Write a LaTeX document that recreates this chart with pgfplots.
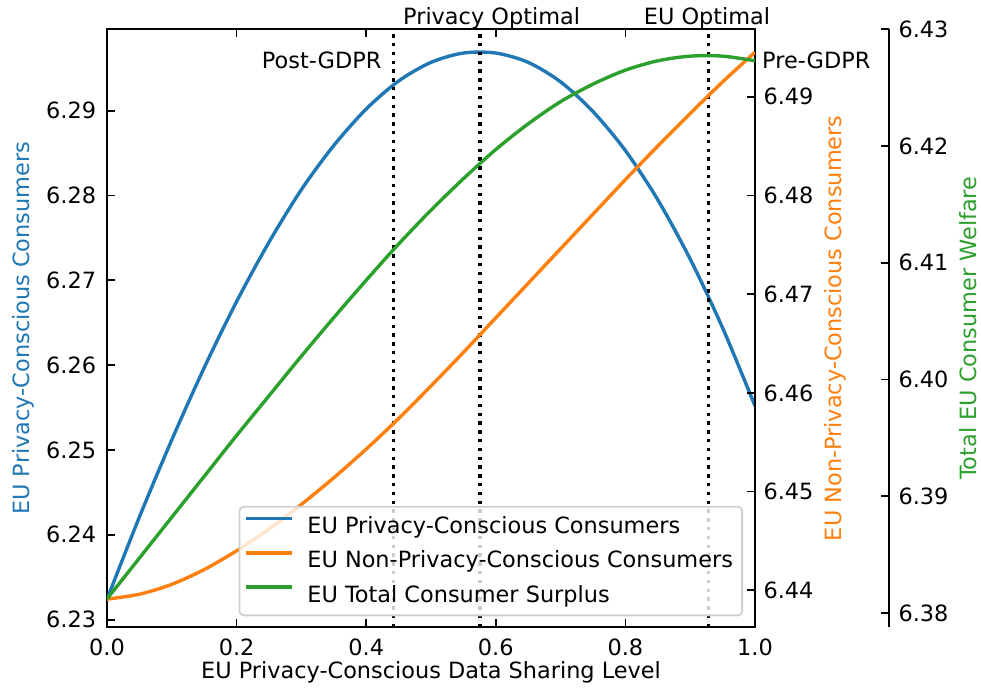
\documentclass[border=0pt]{standalone}
\usepackage{fontspec}
\setmainfont{DejaVu Sans}
\usepackage{pgfplots}
\pgfplotsset{compat=1.18}
\usepackage{pgfplotstable}

\definecolor{tabblue}{HTML}{1F77B4}
\definecolor{taborange}{HTML}{FF7F0E}
\definecolor{tabgreen}{HTML}{2CA02C}

% Consumer welfare against the EU privacy-conscious data sharing level
\pgfplotstableread{
s     pc      npc     total
0.00  6.2324  6.4391  6.3812
0.05  6.2421  6.4396  6.3847
0.10  6.2512  6.4406  6.3882
0.15  6.2597  6.4421  6.3917
0.20  6.2675  6.4440  6.3952
0.25  6.2745  6.4462  6.3986
0.30  6.2807  6.4487  6.4020
0.35  6.2859  6.4514  6.4053
0.40  6.2902  6.4543  6.4085
0.45  6.2935  6.4574  6.4116
0.50  6.2957  6.4607  6.4145
0.55  6.2968  6.4641  6.4172
0.60  6.2968  6.4676  6.4197
0.65  6.2957  6.4711  6.4219
0.70  6.2934  6.4746  6.4238
0.75  6.2899  6.4781  6.4253
0.80  6.2853  6.4816  6.4265
0.85  6.2795  6.4850  6.4273
0.90  6.2725  6.4883  6.4277
0.95  6.2644  6.4915  6.4277
1.00  6.2552  6.4945  6.4273
}\welfare

\newcommand{\chartfont}{\fontsize{11.2}{13.5}\selectfont}

\pgfplotsset{
  base/.style={
    at={(0,0)}, anchor=south west, scale only axis,
    width=324pt, height=299pt,
    xmin=0, xmax=1, enlargelimits=false,
    line width=0.9pt,
    /pgf/number format/assume math mode=true,
    tick align=inside, major tick length=3.9pt,
    every tick/.style={black, line width=0.9pt},
    tick label style={font=\chartfont, inner sep=0pt},
    scaled ticks=false,
    yticklabel style={/pgf/number format/fixed, /pgf/number format/fixed zerofill, /pgf/number format/precision=2},
  },
  curve/.style={line width=1.7pt, smooth},
  marker/.style={black, line width=1.7pt, dash pattern=on 1.7pt off 2.7pt},
}

\begin{document}
\chartfont
\begin{tikzpicture}
% privacy-conscious consumers, left scale
\begin{axis}[base,
  ymin=6.2291, ymax=6.2996,
  ytick={6.23,6.24,6.25,6.26,6.27,6.28,6.29},
  xtick={0,0.2,0.4,0.6,0.8,1},
  xtick pos=both, xticklabel pos=lower, ytick pos=left,
  xticklabel style={/pgf/number format/fixed, /pgf/number format/fixed zerofill, /pgf/number format/precision=1},
  xticklabel style={anchor=north, yshift=-5.3pt},
  yticklabel style={anchor=east, xshift=-5pt},
]
\addplot[curve, tabblue] table[x=s, y=pc] {\welfare};
\addplot[marker] coordinates {(0.4425,6.2291) (0.4425,6.2996)};
\addplot[marker] coordinates {(0.5756,6.2291) (0.5756,6.2996)};
\addplot[marker] coordinates {(0.928,6.2291) (0.928,6.2996)};
\end{axis}

% non-privacy-conscious consumers, first right scale
\begin{axis}[base,
  ymin=6.43625, ymax=6.49683,
  hide x axis, axis y line*=right,
  ytick={6.44,6.45,6.46,6.47,6.48,6.49},
  yticklabel style={anchor=west, xshift=3.85pt},
]
\addplot[curve, taborange] table[x=s, y=npc] {\welfare};
\end{axis}

% total welfare, offset right scale
\begin{axis}[base, at={(67pt,0)},
  ymin=6.37877, ymax=6.43,
  hide x axis, axis y line*=right,
  ytick={6.38,6.39,6.40,6.41,6.42,6.43},
  yticklabel style={anchor=west, xshift=4.3pt},
]
\end{axis}

% total welfare curve and legend
\begin{axis}[base,
  ymin=6.37877, ymax=6.43, hide axis,
  legend cell align=left,
  legend image code/.code={\draw[#1] (0pt,0.36em) -- (23pt,0.36em);},
  legend style={at={(axis description cs:1,0)}, anchor=south east,
    xshift=-6pt, yshift=5.5pt,
    font=\chartfont,
    draw=black!18, line width=0.9pt, rounded corners=2pt,
    fill=white, fill opacity=0.8, draw opacity=1, text opacity=1,
    inner xsep=2.6pt, inner ysep=2pt,
    row sep=0.95pt, column sep=4.6pt,
    nodes={inner xsep=2pt, inner ysep=1pt, text height=10.5pt, text depth=3.65pt}},
]
\addlegendimage{tabblue, line width=1.7pt}
\addlegendentry{EU Privacy-Conscious Consumers}
\addlegendimage{taborange, line width=1.7pt}
\addlegendentry{EU Non-Privacy-Conscious Consumers}
\addplot[curve, tabgreen] table[x=s, y=total] {\welfare};
\addlegendentry{EU Total Consumer Surplus}
\end{axis}

% axis titles
\node[rotate=90, anchor=base, inner sep=0pt, text=tabblue] at (-38.5pt,149.5pt) {EU Privacy-Conscious Consumers};
\node[rotate=90, anchor=base, inner sep=0pt, text=taborange] at (367.3pt,149.5pt) {EU Non-Privacy-Conscious Consumers};
\node[rotate=90, anchor=base, inner sep=0pt, text=tabgreen] at (434.5pt,149.5pt) {Total EU Consumer Welfare};
\node[anchor=base, inner sep=0pt] at (162pt,-25.5pt) {EU Privacy-Conscious Data Sharing Level};

% policy annotations
\node[anchor=base east, inner sep=0pt] at (137.4pt,279.5pt) {Post-GDPR};
\node[anchor=base west, inner sep=0pt] at (327.4pt,279.5pt) {Pre-GDPR};
\node[anchor=base, inner sep=0pt] at (192.3pt,301.2pt) {Privacy Optimal};
\node[anchor=base, inner sep=0pt] at (300pt,301.2pt) {EU Optimal};

\pgfresetboundingbox
\useasboundingbox (-53.5pt,-31pt) rectangle (437pt,313.65pt);
\end{tikzpicture}
\end{document}
